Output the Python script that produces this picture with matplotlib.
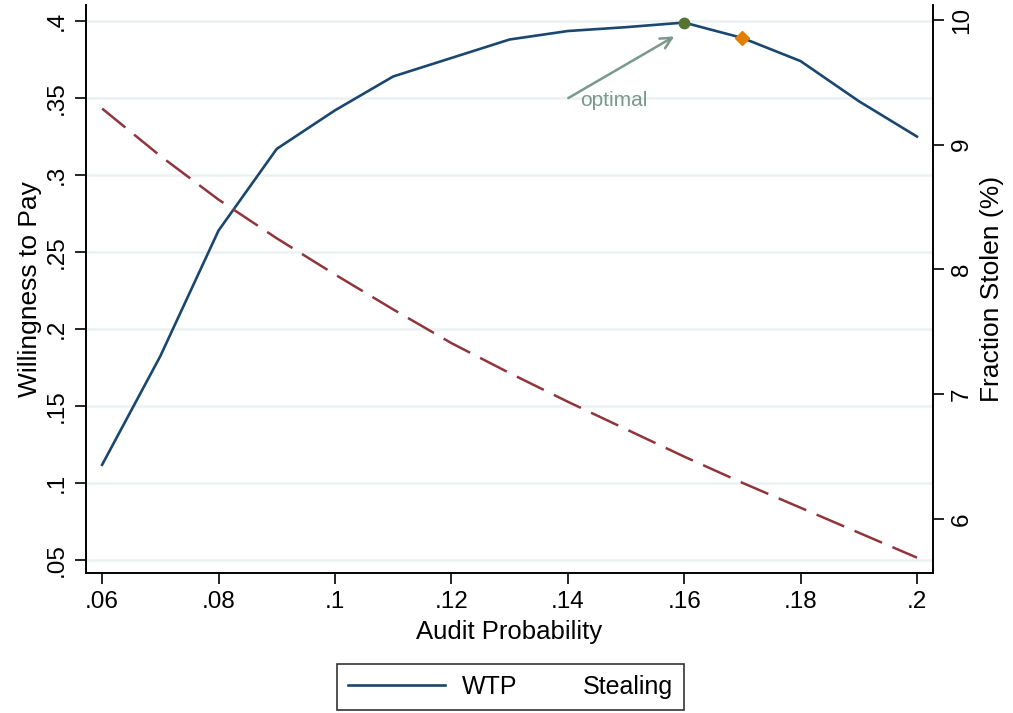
import matplotlib
matplotlib.use("Agg")
import matplotlib.pyplot as plt
from matplotlib.lines import Line2D

plt.rcParams['font.family'] = ['Liberation Sans', 'DejaVu Sans']

audit = [0.06, 0.07, 0.08, 0.09, 0.10, 0.11, 0.12, 0.13, 0.14, 0.15, 0.16, 0.17, 0.18, 0.19, 0.20]
wtp = [0.112, 0.1825, 0.264, 0.317, 0.342, 0.364, 0.376, 0.388, 0.3935, 0.396, 0.399, 0.389, 0.374, 0.348, 0.325]
stealing = [9.29, 8.91, 8.56, 8.25, 7.96, 7.68, 7.41, 7.17, 6.94, 6.72, 6.50, 6.29, 6.09, 5.89, 5.69]
opt_x, opt_y = 0.16, 0.399
alt_x, alt_y = 0.17, 0.389
arrow_tail = (0.1401, 0.350)
arrow_head = (0.1583, 0.390)
label_pos = (0.1421, 0.3485)

xticks = [0.06, 0.08, 0.10, 0.12, 0.14, 0.16, 0.18, 0.20]
xticklabels = ['.06', '.08', '.1', '.12', '.14', '.16', '.18', '.2']
yticks = [0.05, 0.10, 0.15, 0.20, 0.25, 0.30, 0.35, 0.40]
yticklabels = ['.05', '.1', '.15', '.2', '.25', '.3', '.35', '.4']
y2ticks = [6, 7, 8, 9, 10]

navy = '#1a476f'
maroon = '#90353b'
grid_c = '#eaf2f3'
ann_c = '#7a988c'

fig = plt.figure(figsize=(10.13, 7.13), dpi=100)
ax = fig.add_axes([0.085, 0.196, 0.836, 0.797])
ax2 = ax.twinx()

ax.set_xlim(0.05725, 0.20275)
ax.set_ylim(0.0416, 0.4104)
ax2.set_ylim(5.565, 10.12)

for yt in yticks:
    ax.axhline(yt, color=grid_c, lw=1.8, zorder=0)

ax.plot(audit, wtp, color=navy, lw=1.9, zorder=3)
ax2.plot(audit, stealing, color=maroon, lw=1.8, dashes=(12, 4.5), zorder=3)
ax.plot([opt_x], [opt_y], 'o', color='#55752f', ms=7.5, zorder=5)
ax.plot([alt_x], [alt_y], 'D', color='#e37e00', ms=7.5, zorder=5)

ax.annotate('', xy=arrow_head, xytext=arrow_tail,
            arrowprops=dict(arrowstyle='->', color=ann_c, lw=1.8,
                            shrinkA=0, shrinkB=0, mutation_scale=20))
ax.text(label_pos[0], label_pos[1], 'optimal', color=ann_c, fontsize=15,
        va='center', ha='left')

ax.set_xticks(xticks)
ax.set_xticklabels(xticklabels, fontsize=17.5)
ax.set_yticks(yticks)
ax.set_yticklabels(yticklabels, fontsize=17.5, rotation=90, va='center')
ax2.set_yticks(y2ticks)
ax2.set_yticklabels([str(v) for v in y2ticks], fontsize=17.5, rotation=90, va='center')

ax.tick_params(axis='both', length=8, width=1.2, direction='out', pad=5)
ax2.tick_params(axis='y', length=8, width=1.2, direction='out', pad=5)

ax.set_xlabel('Audit Probability', fontsize=18.5, labelpad=5)
ax.set_ylabel('Willingness to Pay', fontsize=19, labelpad=3)
ax2.set_ylabel('Fraction Stolen (%)', fontsize=19, labelpad=5)

for a in (ax, ax2):
    a.spines['top'].set_visible(False)
    for s in ('left', 'bottom', 'right'):
        a.spines[s].set_linewidth(1.2)

handles = [Line2D([0], [0], color=navy, lw=1.9),
           Line2D([0], [0], color=maroon, lw=0)]
leg = fig.legend(handles, ['WTP', 'Stealing'], loc='center',
                 bbox_to_anchor=(0.504, 0.0365), ncol=2, fontsize=18,
                 frameon=True, fancybox=False, edgecolor='black',
                 handlelength=3.9, columnspacing=-1.9, handletextpad=0.64,
                 borderpad=0.45)
leg.get_frame().set_linewidth(1.2)

fig.savefig('out.png', dpi=100)
